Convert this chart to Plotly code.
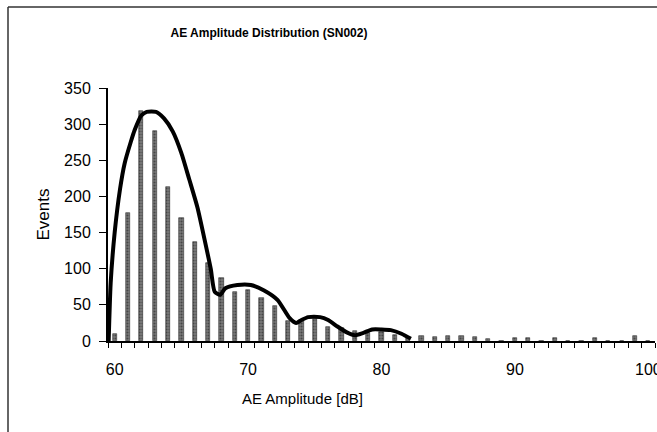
import numpy as np
import plotly.graph_objects as go

# ---- data ----
amplitude_db = list(range(60, 101))
event_counts = [10, 177, 318, 290, 213, 170, 137, 108, 87, 68,
                70, 60, 49, 28, 28, 31, 20, 18, 14, 11,
                13, 8, 6, 7, 5, 7, 7, 6, 3, 0,
                4, 4, 0, 4, 0, 0, 4, 0, 0, 7, 0]

fit_x = [59.55, 59.7, 60.0, 60.4, 60.75, 61.2, 61.5, 62.0, 62.4, 63.1, 63.7, 64.35,
         65.0, 65.6, 66.2, 66.8, 67.2, 67.5, 67.9, 68.3, 69.2, 70.2, 71.2, 72.2,
         73.1, 73.6, 74.0, 74.5, 75.4, 76.0, 76.7, 77.4, 78.0, 78.6, 79.3, 80.0,
         80.7, 81.5, 82.2]
fit_y = [0, 80, 150, 210, 246, 275, 292, 312, 317, 317, 308, 290,
         260, 223, 185, 135, 100, 68, 64, 73, 77.5, 77.5, 70, 57,
         32, 25, 29, 33, 33, 29, 20, 12, 8, 11, 16, 16,
         15, 10, 3]

y_ticks = [0, 50, 100, 150, 200, 250, 300, 350]
x_ticks = [60, 70, 80, 90, 100]

title_text = "AE Amplitude Distribution (SN002)"
x_title = "AE Amplitude [dB]"
y_title = "Events"

FONT = "Liberation Sans, Arial, sans-serif"

fig = go.Figure()
fig.add_trace(go.Bar(
    x=amplitude_db, y=event_counts, width=0.32,
    marker=dict(color="#7a7a7a", line=dict(color="#333", width=0.6),
                pattern=dict(shape=".", fgcolor="#111", size=3, solidity=0.4)),
    showlegend=False,
))
fig.add_trace(go.Scatter(
    x=fit_x, y=fit_y, mode="lines",
    line=dict(color="black", width=4, shape="spline", smoothing=0.6),
    showlegend=False,
))

fig.update_layout(
    width=657, height=432,
    margin=dict(l=108, r=2, t=88, b=91),
    paper_bgcolor="white", plot_bgcolor="white",
    font=dict(family=FONT, color="black", size=16),
    title=dict(text="<b>" + title_text + "</b>", x=269 / 657, xanchor="center",
               y=1 - 33 / 432, yanchor="middle",
               font=dict(size=12, family=FONT)),
    bargap=0,
)
fig.update_xaxes(
    range=[59.5, 100.5], tickvals=x_ticks, ticks="", showgrid=False,
    showline=True, linecolor="black", linewidth=2, zeroline=False,
    ticklabelstandoff=13, ticklabeloverflow="allow", automargin=False,
    minor=dict(tickvals=list(np.arange(59.5, 101.0, 1.0)), ticks="outside",
               ticklen=5, tickcolor="black", tickwidth=1, showgrid=False),
    tickfont=dict(size=16),
)
fig.update_yaxes(
    range=[0, 350], tickvals=y_ticks, ticks="outside", ticklen=7,
    tickcolor="black", tickwidth=1, showgrid=False,
    showline=True, linecolor="black", linewidth=2, zeroline=False,
    ticklabelstandoff=5, automargin=False,
    tickfont=dict(size=16),
    title=dict(text=y_title, font=dict(size=17), standoff=10),
)
fig.add_annotation(text=x_title, xref="paper", yref="paper",
                   x=(302 - 108) / 547, y=(341 - 398) / 253,
                   xanchor="center", yanchor="middle", showarrow=False,
                   font=dict(size=15, family=FONT))
# outer chart frame (left and top edges)
fig.add_shape(type="line", xref="paper", yref="paper",
              x0=(8 - 108) / 547, x1=(8 - 108) / 547,
              y0=(341 - 7) / 253, y1=(341 - 440) / 253,
              line=dict(color="#333", width=1.5))
fig.add_shape(type="line", xref="paper", yref="paper",
              x0=(8 - 108) / 547, x1=1.05,
              y0=(341 - 7) / 253, y1=(341 - 7) / 253,
              line=dict(color="#333", width=1.5))

fig.write_html("out.html", config={"displayModeBar": False},
               post_script="document.body.style.margin='0';")
